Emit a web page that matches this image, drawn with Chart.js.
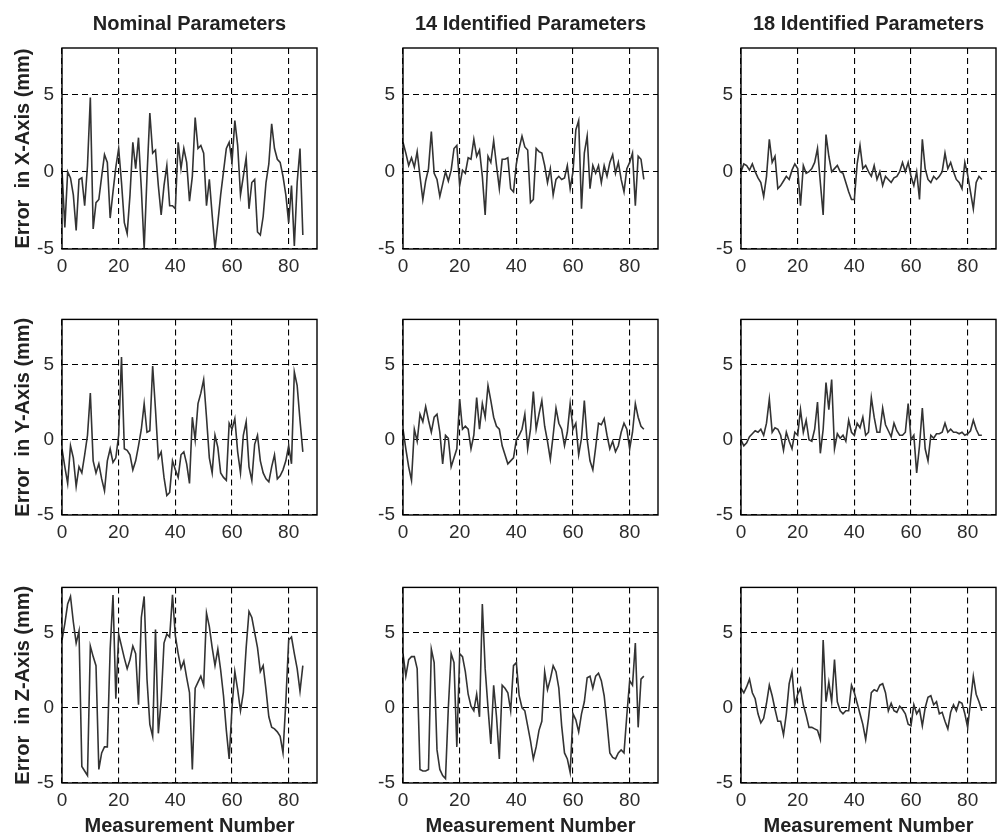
<!DOCTYPE html>
<html>
<head>
<meta charset="utf-8">
<script src="https://cdn.jsdelivr.net/npm/chart.js@4.4.1/dist/chart.umd.min.js"></script>
<style>
  html, body { margin: 0; padding: 0; background: #fff; overflow: hidden; }
  #page { position: relative; width: 1002px; height: 838px; }
  #page canvas { position: absolute; }
</style>
</head>
<body>
<div id="page"></div>
<script>
// measurement numbers along the x axis
const measurementNo = Array.from({ length: 86 }, (_, i) => i);
const xTicks = [0, 20, 40, 60, 80];
const yTicks = [-5, 0, 5];

const columnTitles = ['Nominal Parameters', '14 Identified Parameters', '18 Identified Parameters'];
const rowTitles = ['Error  in X-Axis (mm)', 'Error  in Y-Axis (mm)', 'Error  in Z-Axis (mm)'];
const xTitle = 'Measurement Number';

// errors (mm)
const nomX = [0.1, -3.6, 0.0, -0.4, -1.5, -3.8, -0.5, -0.4, -2.2, 0.4, 4.8, -3.7, -2.0, -1.8, -0.3, 1.1, 0.6, -3.0, -1.3, 0.3,
  1.5, -0.7, -3.3, -4.0, -1.5, 1.9, 0.2, 2.2, -1.1, -5.0, -0.3, 3.8, 1.2, 1.4, -0.9, -2.8, -0.9, 0.4, -2.2, -2.2,
  -2.4, 1.9, 0.2, 1.5, 0.6, -1.9, -0.3, 3.5, 1.5, 1.7, 1.2, -2.2, -0.5, -2.8, -5.0, -3.3, -1.5, 0.0, 1.5, 1.9,
  0.6, 3.3, 1.7, -1.5, -0.3, 0.9, -2.4, -0.7, -0.5, -3.9, -4.1, -2.9, -0.7, 0.5, 3.1, 1.5, 0.8, 0.6, -0.3, -1.5,
  -3.3, -0.9, -4.8, -0.7, 1.5, -4.1];
const id14X = [1.9, 1.2, 0.4, 0.9, 0.3, 1.3, -0.3, -1.8, -0.6, 0.2, 2.6, -0.1, -0.5, -1.6, -0.8, 0.0, -0.6, 0.1, 1.5, 1.7,
  -0.9, 0.1, -0.1, 0.9, 0.8, 2.1, 1.0, 1.4, -0.3, -2.8, 1.0, 0.6, 2.0, 0.4, -1.1, 0.8, 0.8, 0.9, -1.1, -1.3,
  0.5, 1.5, 2.3, 1.6, 1.4, -2.0, -1.8, 1.5, 1.3, 1.2, 0.4, -0.7, 0.2, -1.5, -0.5, -0.3, -0.5, -0.4, 0.4, -1.1,
  0.0, 2.7, 3.3, -2.4, 1.2, 2.3, -1.1, 0.4, -0.1, 0.4, -0.7, 0.4, -0.3, 0.6, 1.1, -0.1, 0.6, -0.5, -1.3, 0.2,
  0.6, 1.2, -2.2, 1.0, 0.8, -0.5];
const id18X = [0.0, 0.5, 0.4, 0.1, 0.5, 0.0, -0.4, -0.7, -1.6, -0.3, 2.1, 0.6, 1.0, -1.1, -0.9, -0.6, -0.3, -0.5, 0.1, 0.5,
  0.2, -2.2, 0.4, -0.1, 0.0, 0.2, 0.6, 1.5, -0.7, -2.8, 2.4, 1.0, 0.0, 0.2, 0.4, 0.0, -0.1, -0.7, -1.3, -1.8,
  -1.8, 0.5, 1.7, 0.2, 0.4, 0.0, -0.3, 0.4, -0.5, 0.0, -0.9, -0.3, -0.5, -0.7, -0.4, -0.3, 0.0, 0.6, 0.0, 0.6,
  -0.3, -0.9, 0.0, -1.8, 2.1, 0.2, -0.5, -0.7, -0.3, -0.5, -0.3, 0.0, 1.2, 0.2, 0.6, 0.0, -0.5, -0.7, -1.1, 0.6,
  -0.2, -1.3, -2.4, -0.7, -0.3, -0.5];

const nomY = [-0.6, -1.8, -2.9, -0.4, -1.2, -3.1, -1.8, -2.2, -1.0, 0.3, 3.1, -1.4, -2.2, -1.6, -2.6, -3.4, -1.4, -0.6, -1.5, -1.2,
  0.3, 5.5, -0.6, -0.7, -1.0, -2.0, -1.4, -0.4, 0.7, 2.4, 0.5, 0.6, 4.9, 2.0, -1.2, -0.8, -2.5, -3.7, -3.5, -1.4,
  -2.0, -2.5, -1.0, -0.8, -1.6, -2.9, 1.5, 0.0, 2.4, 3.1, 4.0, 1.5, -1.2, -2.2, 0.3, -0.5, -2.2, -2.5, -2.7, 1.1,
  0.7, 1.4, -0.8, -2.2, 0.3, 1.2, -1.8, -2.7, -0.3, 0.3, -1.4, -2.2, -2.6, -2.8, -1.8, -1.0, -2.6, -2.4, -2.0, -1.4,
  -0.4, -1.6, 4.5, 3.6, 1.3, -0.8];
const id14Y = [0.7, -0.6, -1.8, -2.7, 0.7, -0.1, 1.7, 1.2, 2.2, 1.3, 0.5, 1.5, 1.7, 0.5, -1.6, 0.3, 0.1, -1.8, -1.2, -0.6,
  2.7, 0.7, 0.9, 0.7, -0.6, 0.3, 2.8, 0.7, 2.4, 1.5, 3.6, 2.6, 1.5, 0.9, 0.7, -0.4, -1.0, -1.6, -1.4, -1.2,
  0.0, 0.3, 0.7, 1.7, -0.6, 0.7, 3.2, 0.7, 1.7, 2.6, 0.9, -0.1, -1.3, 0.3, 2.1, 1.1, 0.7, -0.4, 0.5, 2.4,
  0.7, 1.1, -1.0, 0.1, 2.6, 0.0, -1.4, -2.0, -0.5, 1.1, 1.0, 1.4, 0.3, -0.6, -0.1, -0.8, -0.4, 0.5, 1.1, 0.7,
  -0.6, 0.5, 2.4, 1.5, 0.9, 0.7];
const id18Y = [0.0, -0.4, -0.2, 0.2, 0.4, 0.6, 0.5, 0.7, 0.3, 1.1, 2.7, 0.5, 0.8, 0.7, 0.3, -0.7, 0.5, -0.1, -0.6, 0.5,
  0.3, 2.0, 0.5, 1.3, 0.0, -0.1, 0.7, 2.5, -0.9, 0.7, 3.8, 2.0, 4.0, -0.6, 0.4, 0.1, 0.3, -0.1, 1.3, 0.5,
  0.3, 1.1, 0.8, 1.5, 0.3, 0.5, 2.8, 1.5, 0.5, 0.5, 2.1, 1.0, 0.6, 0.2, 1.1, 0.6, 0.3, 0.3, 0.5, 2.4,
  0.0, 0.3, -2.2, -0.4, 2.1, -0.6, -1.4, 0.3, 0.1, 0.4, 0.4, 0.5, 1.1, 0.5, 0.7, 0.5, 0.5, 0.4, 0.5, 0.3,
  0.4, 0.6, 1.3, 0.7, 0.3, 0.3];

const nomZ = [4.5, 5.6, 6.9, 7.4, 5.7, 4.3, 5.1, -3.9, -4.2, -4.5, 4.1, 3.4, 2.8, -4.1, -3.0, -2.6, -2.6, 3.9, 7.5, 0.6,
  4.9, 4.1, 3.3, 2.6, 3.2, 4.1, 3.6, 0.2, 6.0, 7.4, 1.9, -1.1, -1.9, 5.2, -1.7, 0.5, 4.3, 4.9, 4.7, 7.5,
  4.8, 3.6, 2.6, 3.1, 2.0, 1.0, -4.1, 1.3, 1.7, 2.1, 1.5, 6.3, 5.4, 4.0, 2.8, 3.9, 2.5, 0.8, -1.5, -3.4,
  0.0, 2.4, 1.2, -0.2, 1.0, 4.0, 6.4, 6.0, 5.0, 4.0, 2.4, 2.8, 1.2, -0.6, -1.3, -1.4, -1.6, -1.9, -3.0, 0.4,
  4.5, 4.7, 3.6, 2.6, 1.1, 2.8];
const id14Z = [3.6, 2.1, 3.2, 3.4, 3.4, 2.6, -4.1, -4.2, -4.2, -4.1, 3.9, 3.0, -2.8, -4.1, -4.5, -4.7, 0.0, 3.6, 3.0, -2.6,
  3.6, 3.4, 2.4, 0.9, 0.1, -0.2, 0.9, -0.6, 6.9, 2.6, 0.0, -2.4, 1.5, -0.6, -3.4, 1.5, 1.3, 1.0, -0.2, 2.8,
  3.0, 0.8, 0.0, -0.2, -1.2, -2.2, -3.4, -2.6, -1.5, -0.9, 2.4, 1.2, 1.9, 2.8, 2.4, 1.3, -1.2, -3.0, -3.4, -4.3,
  -0.4, -0.8, -1.6, -0.4, 0.4, 2.0, 2.1, 1.3, 2.1, 2.3, 1.8, 0.8, -1.0, -3.0, -3.3, -3.4, -3.0, -2.8, -3.0, -0.5,
  1.8, 1.5, 4.3, -1.3, 1.9, 2.1];
const id18Z = [1.3, 1.0, 1.4, 1.9, 1.0, 0.6, -0.4, -1.0, -0.7, 0.3, 1.5, 0.8, -0.1, -0.9, -0.9, -1.8, -0.4, 1.6, 2.4, 0.2,
  0.9, 1.3, 0.2, -0.5, -1.3, -1.3, -1.4, -1.5, -2.1, 4.5, 0.4, 1.7, 0.4, 3.2, 0.4, -0.2, -0.4, -0.2, -0.2, 1.5,
  1.0, 0.3, -0.4, -1.1, -2.1, -0.7, 1.0, 1.2, 1.1, 1.5, 1.6, 1.0, -0.2, 0.3, -0.2, -0.3, 0.1, -0.1, -0.4, -1.1,
  -1.2, 0.2, -0.4, -0.1, -1.2, 0.0, 0.7, 0.8, 0.2, 0.4, -0.4, -0.3, -0.9, -1.4, -0.3, 0.2, -0.2, 0.4, 0.3, -0.4,
  -1.3, 0.4, 2.1, 0.9, 0.4, -0.2];

const panels = [
  [nomX, id14X, id18X],
  [nomY, id14Y, id18Y],
  [nomZ, id14Z, id18Z]
];

// where each panel canvas sits on the page
const colBox = [
  { left: 0, axisW: 62, width: 330 },
  { left: 335, axisW: 68, width: 328 },
  { left: 670, axisW: 71, width: 332 }
];
const rowBox = [
  { top: 0, height: 279, padTop: 0, axisH: 30 },
  { top: 300, height: 245, padTop: 14, axisH: 30 },
  { top: 568, height: 270, padTop: 14, axisH: 55 }
];
const PLOT_W = 255;

const tickFont = { family: "'Liberation Sans', Arial, sans-serif", size: 19 };
const boldFont = { family: "'Liberation Sans', Arial, sans-serif", size: 20, weight: 'bold' };

// closed box round the plot area, like the original axes
const framePlugin = {
  id: 'frame',
  afterDatasetsDraw(chart) {
    const { ctx, chartArea: a } = chart;
    ctx.save();
    ctx.strokeStyle = '#000';
    ctx.lineWidth = 1.4;
    ctx.strokeRect(a.left, a.top, a.right - a.left, a.bottom - a.top);
    ctx.restore();
  }
};

function makePanel(r, c) {
  const col = colBox[c];
  const row = rowBox[r];
  const canvas = document.createElement('canvas');
  canvas.width = col.width;
  canvas.height = row.height;
  canvas.style.left = col.left + 'px';
  canvas.style.top = row.top + 'px';
  canvas.style.width = col.width + 'px';
  canvas.style.height = row.height + 'px';
  document.getElementById('page').appendChild(canvas);

  const dash = [6, 4];

  new Chart(canvas.getContext('2d'), {
    type: 'line',
    data: {
      labels: measurementNo,
      datasets: [{
        data: panels[r][c],
        borderColor: '#333',
        borderWidth: 1.6,
        pointRadius: 0,
        tension: 0,
        fill: false
      }]
    },
    options: {
      responsive: false,
      animation: false,
      devicePixelRatio: 1,
      layout: { padding: { top: row.padTop, right: col.width - col.axisW - PLOT_W, left: 0, bottom: 0 } },
      plugins: {
        legend: { display: false },
        tooltip: { enabled: false },
        title: {
          display: r === 0,
          text: columnTitles[c],
          fullSize: false,
          color: '#222',
          font: boldFont,
          padding: { top: 12, bottom: 12 }
        }
      },
      scales: {
        x: {
          type: 'linear',
          min: 0,
          max: 90,
          afterBuildTicks: s => { s.ticks = xTicks.map(v => ({ value: v })); },
          afterFit: s => { s.height = row.axisH; },
          ticks: { color: '#2a2a2a', font: tickFont, padding: 6, maxRotation: 0 },
          grid: { color: '#000', lineWidth: 1.1, drawTicks: false, borderDash: dash },
          border: { display: false, dash: dash },
          title: {
            display: r === 2,
            text: xTitle,
            color: '#222',
            font: boldFont,
            padding: { top: 0, bottom: 0 }
          }
        },
        y: {
          min: -5,
          max: 8,
          afterBuildTicks: s => { s.ticks = yTicks.map(v => ({ value: v })); },
          afterFit: s => { s.width = col.axisW; },
          ticks: { color: '#2a2a2a', font: tickFont, padding: 8 },
          grid: { color: '#000', lineWidth: 1.1, drawTicks: false, borderDash: dash },
          border: { display: false, dash: dash },
          title: {
            display: c === 0,
            text: rowTitles[r],
            color: '#222',
            font: boldFont,
            padding: { top: 11, bottom: 0 }
          }
        }
      }
    },
    plugins: [framePlugin]
  });
}

for (let r = 0; r < 3; r++) {
  for (let c = 0; c < 3; c++) {
    makePanel(r, c);
  }
}
</script>
</body>
</html>
